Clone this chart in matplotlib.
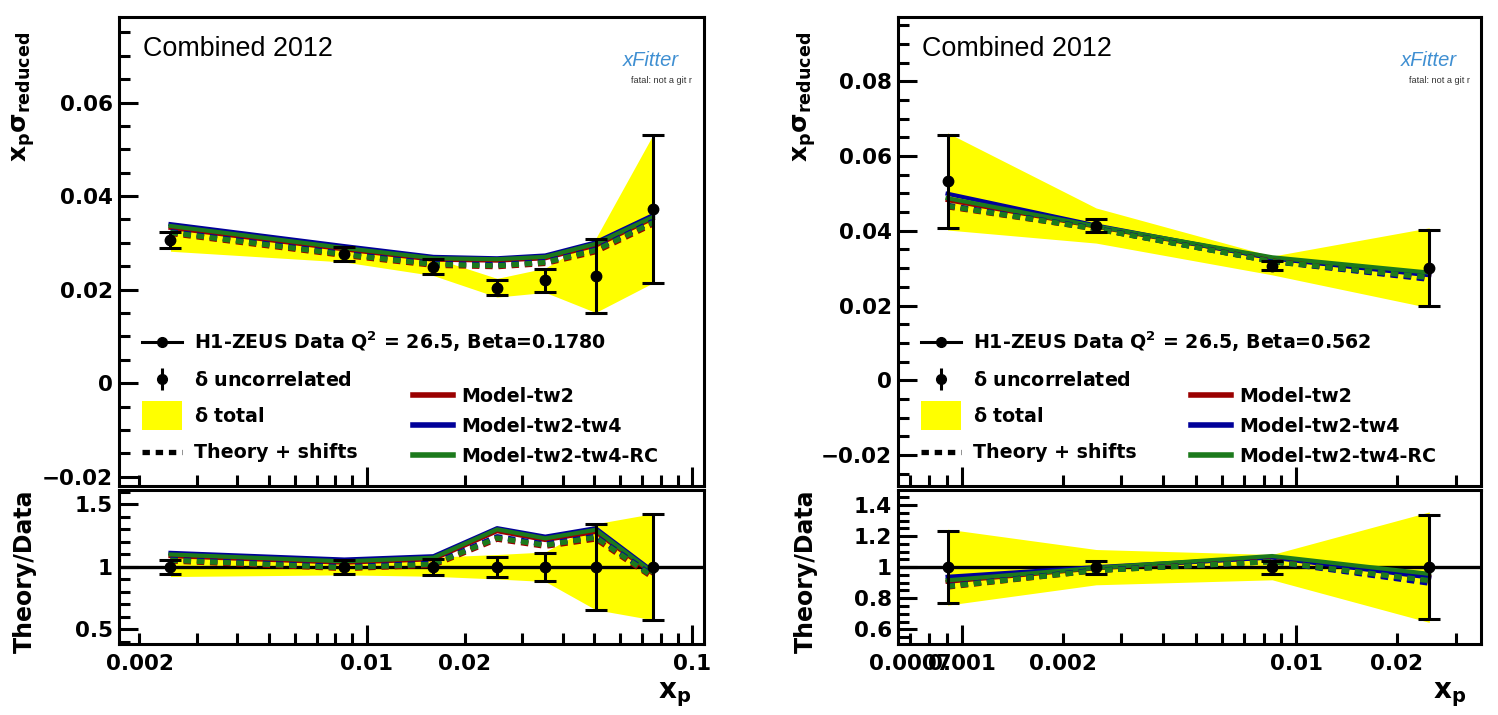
import numpy as np
import matplotlib.pyplot as plt
from matplotlib.lines import Line2D
from matplotlib.patches import Patch, Rectangle
from matplotlib.legend_handler import HandlerPatch, HandlerTuple
from matplotlib.ticker import MultipleLocator, LogLocator, FuncFormatter

plt.rcParams['font.family'] = ['DejaVu Sans']
plt.rcParams['font.weight'] = 'bold'
plt.rcParams['mathtext.default'] = 'bf'

# left panel: Beta = 0.1780
x_left = [0.00249, 0.00852, 0.0160, 0.0251, 0.0353, 0.0504, 0.0755]
data_left = [0.0306, 0.0277, 0.0249, 0.0204, 0.0220, 0.0230, 0.0372]
unc_left = [0.0017, 0.0015, 0.0016, 0.0016, 0.0025, 0.0079, 0.0158]
tot_left = [0.0024, 0.0018, 0.0019, 0.0020, 0.0026, 0.0079, 0.0158]
tw2_left = [0.0332, 0.0286, 0.0264, 0.0262, 0.0267, 0.0294, 0.0352]
tw4_left = [0.0340, 0.0293, 0.0270, 0.0267, 0.0273, 0.0301, 0.0359]
rc_left = [0.0336, 0.0289, 0.0267, 0.0265, 0.0270, 0.0298, 0.0355]
tw2_shift_left = [0.0320, 0.0273, 0.0252, 0.0249, 0.0256, 0.0281, 0.0340]
tw4_shift_left = [0.0324, 0.0277, 0.0256, 0.0253, 0.0260, 0.0286, 0.0346]
rc_shift_left = [0.0322, 0.0275, 0.0254, 0.0251, 0.0258, 0.0284, 0.0343]

# right panel: Beta = 0.562
x_right = [0.000906, 0.00252, 0.00847, 0.0250]
data_right = [0.0532, 0.0414, 0.0307, 0.0301]
unc_right = [0.0124, 0.0017, 0.0013, 0.0101]
tot_right = [0.0130, 0.0047, 0.0025, 0.0107]
tw2_right = [0.0482, 0.0411, 0.0327, 0.0283]
tw4_right = [0.0499, 0.0414, 0.0326, 0.0281]
rc_right = [0.0487, 0.0412, 0.0329, 0.0288]
tw2_shift_right = [0.0464, 0.0405, 0.0319, 0.0272]
tw4_shift_right = [0.0468, 0.0406, 0.0318, 0.0270]
rc_shift_right = [0.0466, 0.0405, 0.0318, 0.0275]

model_names = ['Model-tw2', 'Model-tw2-tw4', 'Model-tw2-tw4-RC']
model_colors = ['#9a0000', '#000099', '#1c7a1c']
band_color = '#ffff00'
dash = (0, (1.4, 1.1))

W, H = 1498, 715
fig = plt.figure(figsize=(W / 100, H / 100), dpi=100)


def px_axes(x0, x1, y0, y1):
    return fig.add_axes([x0 / W, 1 - y1 / H, (x1 - x0) / W, (y1 - y0) / H])


def style(ax):
    for s in ax.spines.values():
        s.set_linewidth(2.2)
    ax.tick_params(which='both', direction='in', top=False, right=False, width=2.2,
                   labelsize=15.5, pad=4.5)
    ax.tick_params(which='major', length=14)
    ax.tick_params(which='minor', length=8)
    ax.tick_params(axis='x', which='both', pad=7)


def ytick_fmt(v, pos):
    if abs(v) < 1e-9:
        return '0'
    return ('%.2f' % v).replace('-', '\u2212')


def tall_box(legend, orig_handle, xdescent, ydescent, width, height, fontsize):
    # yellow legend box, taller than the text row like in ROOT
    h = 21.0
    return Rectangle((-xdescent, height / 2 - ydescent - h / 2), width, h)


def panel(ax, axr, x, data, unc, tot, models, shifts, beta, ylim, rylim, rminor,
          xlim, xlabels):
    x = np.array(x)
    data = np.array(data)
    unc = np.array(unc)
    tot = np.array(tot)

    ax.fill_between(x, data - tot, data + tot, color=band_color, lw=0, zorder=1)
    for vals, c in zip(models, model_colors):
        ax.plot(x, vals, color=c, lw=3, zorder=3)
    for vals, c in zip(shifts, model_colors):
        ax.plot(x, vals, color=c, lw=3.8, ls=dash, zorder=4)
    ax.errorbar(x, data, yerr=unc, fmt='o', color='k', ms=7.5, elinewidth=2.2,
                capsize=8, capthick=2.2, zorder=5)

    rel_unc = unc / data
    rel_tot = tot / data
    axr.fill_between(x, 1 - rel_tot, 1 + rel_tot, color=band_color, lw=0, zorder=1)
    axr.axhline(1, color='k', lw=2.4, zorder=2)
    for vals, c in zip(models, model_colors):
        axr.plot(x, np.array(vals) / data, color=c, lw=3, zorder=3)
    for vals, c in zip(shifts, model_colors):
        axr.plot(x, np.array(vals) / data, color=c, lw=3.8, ls=dash, zorder=4)
    axr.errorbar(x, np.ones_like(x), yerr=rel_unc, fmt='o', color='k', ms=7.5,
                 elinewidth=2.2, capsize=8, capthick=2.2, zorder=5)

    for a in (ax, axr):
        a.set_xscale('log')
        a.set_xlim(*xlim)
        a.xaxis.set_major_locator(LogLocator(base=10, numticks=10))
        a.xaxis.set_minor_locator(LogLocator(base=10, subs=np.arange(2, 10), numticks=20))
        style(a)
    ax.set_ylim(*ylim)
    ax.yaxis.set_major_locator(MultipleLocator(0.02))
    ax.yaxis.set_minor_locator(MultipleLocator(0.005))
    ax.yaxis.set_major_formatter(FuncFormatter(ytick_fmt))
    ax.tick_params(axis='x', which='both', labelbottom=False)

    axr.set_ylim(*rylim)
    axr.yaxis.set_major_locator(MultipleLocator(0.5 if rminor == 0.1 else 0.2))
    axr.yaxis.set_minor_locator(MultipleLocator(rminor))
    axr.yaxis.set_major_formatter(FuncFormatter(lambda v, p: '%g' % round(v, 3)))

    def xfmt(v, pos):
        for t in xlabels:
            if np.isclose(v, t, rtol=1e-3):
                return '%g' % t
        return ''
    axr.xaxis.set_major_formatter(FuncFormatter(xfmt))
    axr.xaxis.set_minor_formatter(FuncFormatter(xfmt))

    ax.text(0.041, 0.9175, 'Combined 2012', transform=ax.transAxes, fontsize=19.4,
            fontweight='normal', family='Liberation Sans', va='baseline')
    ax.text(0.862, 0.895, 'xFitter', transform=ax.transAxes, fontsize=14.5,
            fontweight='normal', style='italic', family='Liberation Sans',
            color='#3f8fd2', va='baseline')
    ax.text(0.876, 0.859, 'fatal: not a git r', transform=ax.transAxes, fontsize=6.6,
            fontweight='normal', family='Liberation Sans', color='#333333',
            va='baseline')

    h_data = Line2D([], [], color='k', marker='o', ms=7, lw=2.2)
    h_unc = (Line2D([], [], color='k', marker='|', ms=16.5, mew=2.2, ls=''),
             Line2D([], [], color='k', marker='o', ms=7, ls=''))
    h_tot = Patch(color=band_color, lw=0)
    h_th = Line2D([], [], color='k', lw=3.8, ls=dash)
    leg1 = ax.legend([h_data, h_unc, h_tot, h_th],
                     ['H1-ZEUS Data Q$^{2}$ = 26.5, Beta=' + beta,
                      r'$\mathrm{\delta}$ uncorrelated', r'$\mathrm{\delta}$ total',
                      'Theory + shifts'],
                     handler_map={Patch: HandlerPatch(patch_func=tall_box),
                                  tuple: HandlerTuple(ndivide=1)},
                     loc='upper left', bbox_to_anchor=(0.04, 0.3337), frameon=False,
                     fontsize=13.7, handlelength=2.1, handletextpad=0.6,
                     labelspacing=0.9, borderpad=0, borderaxespad=0)
    ax.add_artist(leg1)
    h_models = [Line2D([], [], color=c, lw=4) for c in model_colors]
    ax.legend(h_models, model_names, loc='upper left', bbox_to_anchor=(0.502, 0.2116),
              frameon=False, fontsize=13.7, handlelength=2.1, handletextpad=0.45,
              labelspacing=0.58, borderpad=0, borderaxespad=0)


ax1 = px_axes(119, 704, 17, 486)
ax1r = px_axes(119, 704, 490, 644)
panel(ax1, ax1r, x_left, data_left, unc_left, tot_left,
      [tw2_left, tw4_left, rc_left], [tw2_shift_left, tw4_shift_left, rc_shift_left],
      '0.1780', (-0.022, 0.0783), (0.382, 1.614), 0.1, (0.00173, 0.1085),
      [0.002, 0.01, 0.02, 0.1])

ax2 = px_axes(898, 1481, 17, 486)
ax2r = px_axes(898, 1481, 490, 644)
panel(ax2, ax2r, x_right, data_right, unc_right, tot_right,
      [tw2_right, tw4_right, rc_right],
      [tw2_shift_right, tw4_shift_right, rc_shift_right],
      '0.562', (-0.0283, 0.0972), (0.5055, 1.4965), 0.05, (0.000644, 0.0357),
      [0.0007, 0.001, 0.002, 0.01, 0.02])

# axis titles
for xc in (24, 805):
    fig.text(xc / W, 1 - 32 / H, r'$x_{p}\sigma_{reduced}$', rotation=90,
             ha='center', va='top', fontsize=18)
    fig.text((xc + 1) / W, 1 - 571 / H, 'Theory/Data', rotation=90, ha='center',
             va='center', fontsize=17)
for xr in (691, 1466):
    fig.text(xr / W, 1 - 680 / H, r'$x_{p}$', ha='right', va='top', fontsize=20)

fig.savefig('out.png', dpi=100)
